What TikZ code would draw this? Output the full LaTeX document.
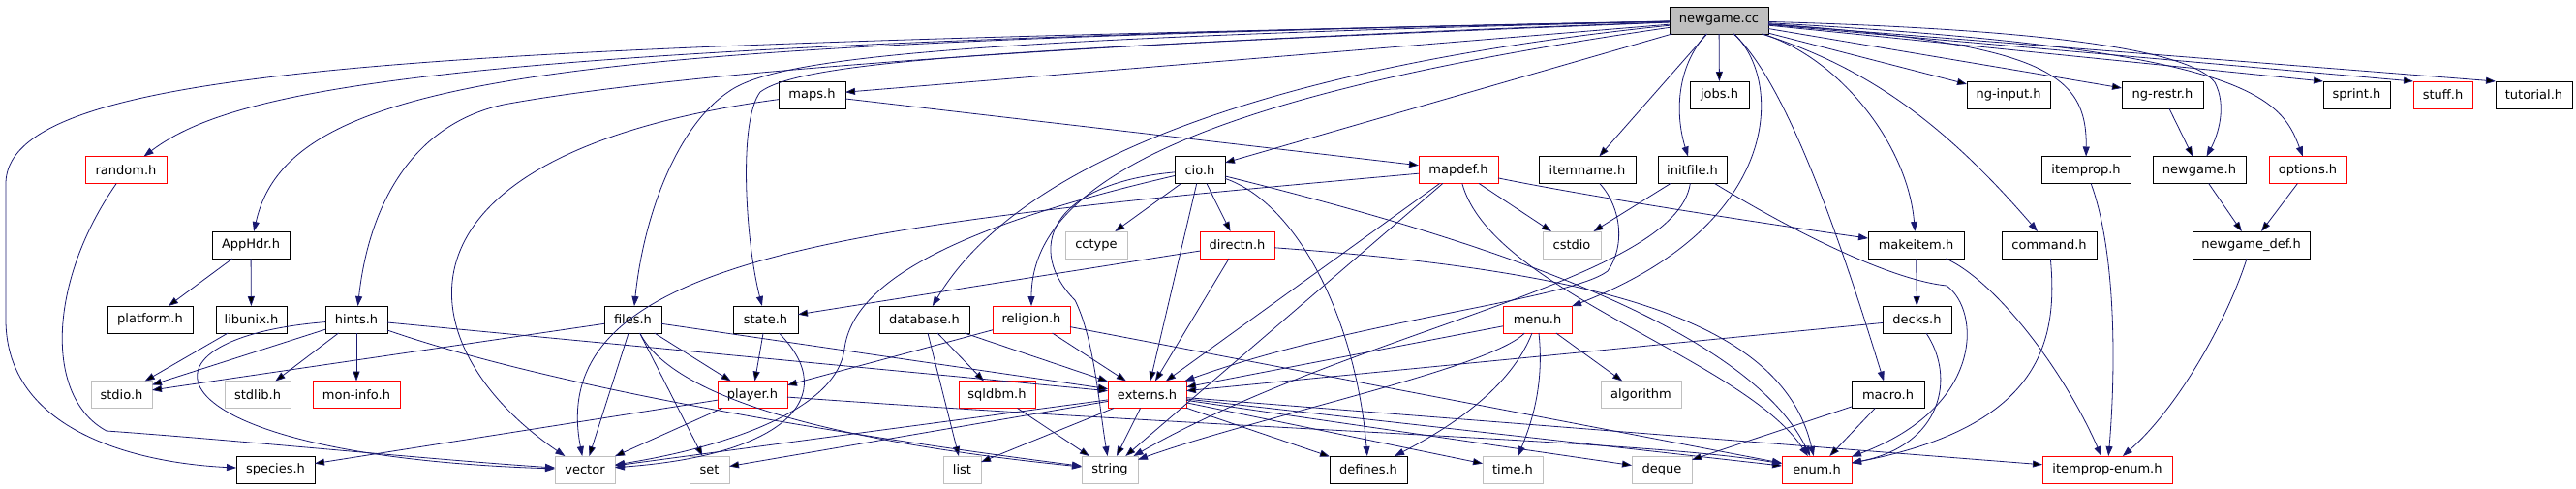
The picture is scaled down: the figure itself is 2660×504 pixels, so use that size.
\documentclass[tikz,border=0pt]{standalone}
\usepackage{fontspec}
\setmainfont{DejaVu Sans}
\usepackage{xcolor}
\usepackage{tikz}
\usetikzlibrary{positioning,arrows.meta}
\definecolor{edgeblue}{HTML}{191970}
\definecolor{sysgray}{HTML}{BFBFBF}
\tikzset{file node/.style={rectangle,draw=black,line width=.9pt,minimum height=28pt,inner sep=0pt,outer sep=0pt,font=\fontsize{13pt}{15pt}\selectfont},
  root node/.style={file node,fill=sysgray},
  trunc node/.style={file node,draw=red},
  sys node/.style={file node,draw=sysgray},
  dep/.style={draw=edgeblue,line width=.8pt,-{Triangle[length=10pt,width=7pt]}},}
\begin{document}
\begin{tikzpicture}[x=1pt,y=-1pt]
    \useasboundingbox (0,0) rectangle (2660,504);

    \node[root node, minimum width=102pt] (newgame) at (1775,21) {newgame.cc};

    \node[file node, minimum width=69pt] (maps) at (838.5,98) {maps.h};
    \node[file node, minimum width=61pt] (jobs) [right=872pt of maps] {jobs.h};
    \node[file node, minimum width=86pt] (nginput) [right=225pt of jobs] {ng-input.h};
    \node[file node, minimum width=84pt] (ngrestr) [right=74pt of nginput] {ng-restr.h};
    \node[file node, minimum width=69pt] (sprint) [right=124pt of ngrestr] {sprint.h};
    \node[trunc node, minimum width=61pt] (stuff) [right=24pt of sprint] {stuff.h};
    \node[file node, minimum width=79pt] (tutorial) [right=24pt of stuff] {tutorial.h};

    \node[trunc node, minimum width=84pt] (random) at (130,175.5) {random.h};
    \node[file node, minimum width=52pt] (cio) [right=1041pt of random] {cio.h};
    \node[trunc node, minimum width=82pt] (mapdef) [right=200pt of cio] {mapdef.h};
    \node[file node, minimum width=100pt] (itemname) [right=42pt of mapdef] {itemname.h};
    \node[file node, minimum width=71pt] (initfile) [right=23pt of itemname] {initfile.h};
    \node[file node, minimum width=92pt] (itemprop) [right=325pt of initfile] {itemprop.h};
    \node[file node, minimum width=96pt] (newgameh) [right=23pt of itemprop] {newgame.h};
    \node[trunc node, minimum width=80pt] (options) [right=24pt of newgameh] {options.h};

    \node[file node, minimum width=80pt] (apphdr) at (259,253) {AppHdr.h};
    \node[sys node, minimum width=64pt] (cctype) [right=801pt of apphdr] {cctype};
    \node[trunc node, minimum width=77pt] (directn) [right=75pt of cctype] {directn.h};
    \node[sys node, minimum width=60pt] (cstdio) [right=277pt of directn] {cstdio};
    \node[file node, minimum width=99pt] (makeitem) [right=276pt of cstdio] {makeitem.h};
    \node[file node, minimum width=98pt] (command) [right=39pt of makeitem] {command.h};
    \node[file node, minimum width=121pt] (newgamedef) [right=99pt of command] {newgame\_def.h};

    \node[file node, minimum width=88pt] (platform) at (155,330) {platform.h};
    \node[file node, minimum width=73pt] (libunix) [right=24pt of platform] {libunix.h};
    \node[file node, minimum width=64pt] (hints) [right=40pt of libunix] {hints.h};
    \node[file node, minimum width=59pt] (files) [right=224pt of hints] {files.h};
    \node[file node, minimum width=67pt] (state) [right=74pt of files] {state.h};
    \node[file node, minimum width=93pt] (database) [right=84pt of state] {database.h};
    \node[trunc node, minimum width=80pt] (religion) [right=24pt of database] {religion.h};
    \node[trunc node, minimum width=71pt] (menu) [right=447pt of religion] {menu.h};
    \node[file node, minimum width=71pt] (decks) [right=321pt of menu] {decks.h};

    \node[sys node, minimum width=63pt] (stdio) at (125.5,407.5) {stdio.h};
    \node[sys node, minimum width=68pt] (stdlib) [right=75pt of stdio] {stdlib.h};
    \node[trunc node, minimum width=90pt] (moninfo) [right=23pt of stdlib] {mon-info.h};
    \node[trunc node, minimum width=72pt] (player) [right=328pt of moninfo] {player.h};
    \node[trunc node, minimum width=79pt] (sqldbm) [right=177pt of player] {sqldbm.h};
    \node[trunc node, minimum width=81pt] (externs) [right=75pt of sqldbm] {externs.h};
    \node[sys node, minimum width=83pt] (algorithm) [right=428pt of externs] {algorithm};
    \node[file node, minimum width=75pt] (macro) [right=176pt of algorithm] {macro.h};

    \node[file node, minimum width=81pt] (species) at (284.5,485) {species.h};
    \node[sys node, minimum width=62pt] (vector) [right=248pt of species] {vector};
    \node[sys node, minimum width=41pt] (set) [right=77pt of vector] {set};
    \node[sys node, minimum width=39pt] (list) [right=221pt of set] {list};
    \node[sys node, minimum width=58pt] (string) [right=104pt of list] {string};
    \node[file node, minimum width=80pt] (defines) [right=198pt of string] {defines.h};
    \node[sys node, minimum width=62pt] (time) [right=78pt of defines] {time.h};
    \node[sys node, minimum width=62pt] (deque) [right=92pt of time] {deque};
    \node[trunc node, minimum width=72pt] (enum) [right=93pt of deque] {enum.h};
    \node[trunc node, minimum width=134pt] (itempropenum) [right=197pt of enum] {itemprop-enum.h};

    \path[dep]
    (newgame) edge (maps)
    (newgame) edge (cio)
    (newgame) edge (itemname)
    (newgame) edge (jobs)
    (newgame) edge (nginput)
    (newgame) edge (ngrestr)
    (newgame) edge (sprint.north west)
    (newgame) edge (stuff.north west)
    (newgame) edge (tutorial.north west)
    (maps) edge (mapdef)
    (apphdr) edge (platform)
    (apphdr) edge (libunix)
    (libunix) edge (stdio)
    (hints) edge (stdio)
    (hints) edge (stdlib)
    (hints) edge (moninfo)
    (hints) edge (externs)
    (files) edge (stdio)
    (files) edge (externs)
    (files) edge (player)
    (files) edge (vector)
    (files) edge (set)
    (state) edge (player)
    (directn) edge (state)
    (directn) edge (externs)
    (database) edge (sqldbm)
    (database) edge (list)
    (database) edge (externs)
    (religion) edge (player)
    (religion) edge (externs)
    (religion) edge (enum)
    (sqldbm) edge (string)
    (cio) edge (cctype)
    (cio) edge (directn)
    (cio) edge (externs)
    (mapdef) edge (cstdio)
    (mapdef) edge (externs)
    (mapdef) edge (string)
    (initfile) edge (cstdio)
    (menu) edge (externs)
    (menu) edge (algorithm)
    (player) edge (species)
    (player) edge (vector)
    (externs) edge (vector)
    (externs) edge (set)
    (externs) edge (list)
    (externs) edge (string)
    (externs) edge (defines)
    (externs) edge (time)
    (externs) edge (deque)
    (externs) edge (enum)
    (externs) edge (itempropenum)
    (makeitem) edge (decks)
    (decks) edge (externs)
    (macro) edge (enum)
    (macro) edge (deque)
    (ngrestr) edge (newgameh)
    (newgameh) edge (newgamedef)
    (options) edge (newgamedef)
    ;

    \draw[dep] (newgame) .. controls (500,48) and (6,60) .. (6,190) -- (6,330) .. controls (6,445) and (140,478) .. (species);
    \draw[dep] (newgame) .. controls (500,45) and (250,85) .. (random);
    \draw[dep] (newgame) .. controls (600,45) and (300,70) .. (apphdr);
    \draw[dep] (newgame) .. controls (1100,45) and (700,75) .. (520,108) .. controls (420,130) and (380,220) .. (hints);
    \draw[dep] (newgame) .. controls (980,40) and (800,60) .. (752,95) .. controls (700,130) and (665,220) .. (files);
    \draw[dep] (newgame) .. controls (1050,50) and (830,62) .. (785,95) .. controls (762,125) and (770,250) .. (state);
    \draw[dep] (newgame) .. controls (1300,70) and (1050,170) .. (database);
    \draw[dep] (newgame) .. controls (1300,90) and (1065,170) .. (religion);
    \draw[dep] (newgame) .. controls (1730,70) and (1730,120) .. (initfile);
    \draw[dep] (newgame) .. controls (1840,80) and (1845,230) .. (menu);
    \draw[dep] (newgame) .. controls (1850,90) and (1910,280) .. (macro);
    \draw[dep] (newgame) .. controls (1900,60) and (1970,150) .. (makeitem);
    \draw[dep] (newgame) .. controls (1930,70) and (2010,130) .. (command);
    \draw[dep] (newgame) .. controls (2110,45) and (2155,75) .. (itemprop);
    \draw[dep] (newgame) .. controls (2100,30) and (2260,50) .. (2287,85) .. controls (2300,110) and (2290,140) .. (newgameh);
    \draw[dep] (newgame) .. controls (2320,50) and (2355,100) .. (options);

    \draw[dep] (maps) .. controls (380,160) and (420,360) .. (vector);
    \draw[dep] (random) .. controls (50,290) and (45,410) .. (110,445) .. controls (250,455) and (450,475) .. (vector);
    \draw[dep] (hints) .. controls (120,350) and (150,470) .. (vector);
    \draw[dep] (hints) .. controls (600,410) and (950,460) .. (string);
    \draw[dep] (files) .. controls (700,420) and (900,460) .. (string);
    \draw[dep] (state) .. controls (870,410) and (810,470) .. (vector);
    \draw[dep] (cio) .. controls (960,240) and (880,300) .. (872,360) .. controls (865,420) and (760,460) .. (vector);
    \draw[dep] (cio) .. controls (1080,190) and (1060,260) .. (1110,310) .. controls (1130,350) and (1135,420) .. (string);
    \draw[dep] (cio) .. controls (1340,210) and (1400,330) .. (defines);
    \draw[dep] (cio) .. controls (1500,240) and (1800,330) .. (enum);
    \draw[dep] (directn) .. controls (1650,280) and (1840,330) .. (enum);
    \draw[dep] (mapdef) .. controls (900,230) and (560,260) .. (vector);
    \draw[dep] (mapdef) .. controls (1540,300) and (1800,370) .. (enum);
    \draw[dep] (mapdef) .. controls (1650,205) and (1850,235) .. (makeitem);
    \draw[dep] (itemname) .. controls (1675,215) and (1678,255) .. (1660,280) .. controls (1620,310) and (1400,330) .. (externs);
    \draw[dep] (initfile) .. controls (1730,290) and (1400,340) .. (string);
    \draw[dep] (initfile) .. controls (1870,250) and (1960,290) .. (2010,295) .. controls (2045,320) and (2050,420) .. (enum);
    \draw[dep] (menu) .. controls (1560,400) and (1500,440) .. (defines);
    \draw[dep] (menu) .. controls (1595,400) and (1580,440) .. (time);
    \draw[dep] (menu) .. controls (1540,380) and (1300,430) .. (string);
    \draw[dep] (player) .. controls (1300,445) and (1700,455) .. (enum);
    \draw[dep] (decks) .. controls (2020,390) and (2005,460) .. (enum);
    \draw[dep] (command) .. controls (2125,350) and (2110,440) .. (enum);
    \draw[dep] (makeitem) .. controls (2060,290) and (2130,380) .. (itempropenum);
    \draw[dep] (itemprop) .. controls (2185,260) and (2185,380) .. (itempropenum);
    \draw[dep] (newgamedef) .. controls (2300,330) and (2250,420) .. (itempropenum);
\end{tikzpicture}
\end{document}
